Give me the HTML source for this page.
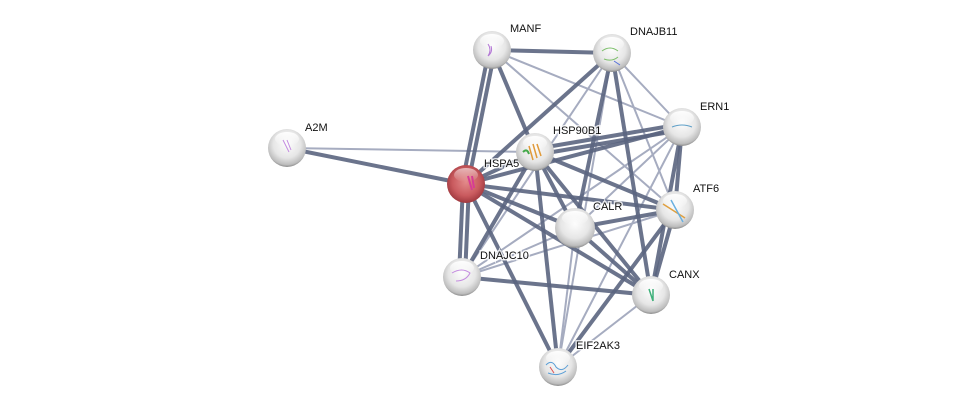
<!DOCTYPE html>
<html><head><meta charset="utf-8"><style>
html,body{margin:0;padding:0;background:#fff;width:976px;height:411px;overflow:hidden}
text{font-family:"Liberation Sans",sans-serif;font-size:11px;fill:#111;paint-order:stroke;stroke:#fff;stroke-width:3px;stroke-opacity:.8}
</style></head><body>
<svg width="976" height="411" viewBox="0 0 976 411" xmlns="http://www.w3.org/2000/svg">
<defs>
<radialGradient id="g" cx="50%" cy="40%" r="60%">
<stop offset="0" stop-color="#fdfdfd"/><stop offset="0.6" stop-color="#e6e6e6"/><stop offset="0.9" stop-color="#bdbdbd"/><stop offset="1" stop-color="#8a8a8a"/></radialGradient>
<radialGradient id="r" cx="50%" cy="45%" r="60%">
<stop offset="0" stop-color="#e38a8a"/><stop offset="0.6" stop-color="#c95a5e"/><stop offset="0.9" stop-color="#a13a40"/><stop offset="1" stop-color="#6d2328"/></radialGradient>
<linearGradient id="hl" x1="0" y1="0" x2="0" y2="1"><stop offset="0" stop-color="#fff" stop-opacity=".95"/><stop offset="1" stop-color="#fff" stop-opacity="0"/></linearGradient>
</defs>
<g stroke="#a6acc0" stroke-width="2" fill="none">
<line x1="287" y1="148" x2="535" y2="152"/>
<line x1="492" y1="50" x2="682" y2="127"/>
<line x1="492" y1="50" x2="675" y2="210"/>
<line x1="612" y1="53" x2="682" y2="127"/>
<line x1="612" y1="53" x2="675" y2="210"/>
<line x1="612" y1="53" x2="558" y2="367"/>
<line x1="612" y1="53" x2="462" y2="277"/>
<line x1="682" y1="127" x2="462" y2="277"/>
<line x1="682" y1="127" x2="575" y2="228"/>
<line x1="575" y1="228" x2="462" y2="277"/>
<line x1="575" y1="228" x2="558" y2="367"/>
<line x1="675" y1="210" x2="462" y2="277"/>
<line x1="651" y1="295" x2="558" y2="367"/>
<line x1="682" y1="127" x2="558" y2="367"/>
</g>
<g stroke="#5b6580" stroke-width="4" fill="none" stroke-opacity=".9">
<line x1="492" y1="50" x2="612" y2="53"/>
<line x1="489" y1="50" x2="462" y2="184"/>
<line x1="495" y1="50" x2="468" y2="184"/>
<line x1="492" y1="50" x2="535" y2="152"/>
<line x1="287" y1="148" x2="466" y2="184"/>
<line x1="466" y1="184" x2="612" y2="53"/>
<line x1="466" y1="184" x2="535" y2="152"/>
<line x1="466" y1="184" x2="575" y2="228"/>
<line x1="466" y1="184" x2="675" y2="210"/>
<line x1="466" y1="184" x2="651" y2="295"/>
<line x1="463" y1="184" x2="459" y2="277"/>
<line x1="469" y1="184" x2="465" y2="277"/>
<line x1="466" y1="184" x2="558" y2="367"/>
<line x1="466" y1="184" x2="682" y2="127"/>
<line x1="535" y1="149" x2="682" y2="124"/>
<line x1="535" y1="155" x2="682" y2="130"/>
<line x1="535" y1="152" x2="675" y2="210"/>
<line x1="535" y1="152" x2="575" y2="228"/>
<line x1="535" y1="152" x2="651" y2="295"/>
<line x1="535" y1="152" x2="462" y2="277"/>
<line x1="535" y1="152" x2="558" y2="367"/>
<line x1="575" y1="228" x2="675" y2="210"/>
<line x1="575" y1="228" x2="651" y2="295"/>
<line x1="612" y1="53" x2="575" y2="228"/>
<line x1="612" y1="53" x2="651" y2="295"/>
<line x1="682" y1="127" x2="675" y2="210"/>
<line x1="682" y1="127" x2="651" y2="295"/>
<line x1="675" y1="210" x2="651" y2="295"/>
<line x1="675" y1="210" x2="558" y2="367"/>
<line x1="462" y1="277" x2="651" y2="295"/>
</g>
<text x="510" y="32">MANF</text>
<text x="630" y="35">DNAJB11</text>
<text x="700" y="110">ERN1</text>
<text x="305" y="131">A2M</text>
<text x="484" y="167">HSPA5</text>
<text x="553" y="134">HSP90B1</text>
<text x="593" y="210">CALR</text>
<text x="693" y="192">ATF6</text>
<text x="480" y="259">DNAJC10</text>
<text x="669" y="278">CANX</text>
<text x="576" y="349">EIF2AK3</text>
<g>
<g transform="translate(492,50)"><circle r="19" fill="url(#g)"/><ellipse cy="-9" rx="12" ry="7" fill="url(#hl)"/><path d="M-4 -6 q4 6 0 12 q5 -4 3 -10" stroke="#b57ad6" fill="none"/></g>
<g transform="translate(612,53)"><circle r="19" fill="url(#g)"/><ellipse cy="-9" rx="12" ry="7" fill="url(#hl)"/><path d="M-10 -2 q8 -6 16 0 M-8 6 q8 3 14 -2" stroke="#7cbf6a" fill="none"/><path d="M2 8 l6 4" stroke="#5570d8"/></g>
<g transform="translate(682,127)"><circle r="19" fill="url(#g)"/><ellipse cy="-9" rx="12" ry="7" fill="url(#hl)"/><path d="M-10 0 q10 -4 20 0" stroke="#5fa0c8" fill="none"/></g>
<g transform="translate(287,148)"><circle r="19" fill="url(#g)"/><ellipse cy="-9" rx="12" ry="7" fill="url(#hl)"/><path d="M-4 -8 l6 12 M0 -8 l4 10" stroke="#c38be0" fill="none"/></g>
<g transform="translate(466,184)"><circle r="19" fill="url(#r)"/><ellipse cy="-9" rx="12" ry="7" fill="url(#hl)" opacity=".6"/><path d="M2 -8 l4 14 M6 -8 l2 12" stroke="#d63c94" stroke-width="2" fill="none"/></g>
<g transform="translate(535,152)"><circle r="19" fill="url(#g)"/><ellipse cy="-9" rx="12" ry="7" fill="url(#hl)"/><path d="M-6 -6 l4 14 M-2 -8 l4 14 M2 -8 l4 12" stroke="#e09a3a" stroke-width="1.5"/><path d="M-12 0 q4 -4 6 2" stroke="#44a84a" stroke-width="2" fill="none"/></g>
<g transform="translate(575,228)"><circle r="20" fill="url(#g)"/><ellipse cy="-10" rx="13" ry="7" fill="url(#hl)"/></g>
<g transform="translate(675,210)"><circle r="19" fill="url(#g)"/><ellipse cy="-9" rx="12" ry="7" fill="url(#hl)"/><path d="M-12 -6 l22 14" stroke="#e0a040" stroke-width="1.5"/><path d="M-4 -10 l12 22" stroke="#6ab0e0" stroke-width="1.5"/></g>
<g transform="translate(462,277)"><circle r="19" fill="url(#g)"/><ellipse cy="-9" rx="12" ry="7" fill="url(#hl)"/><path d="M-10 -4 q10 -6 18 0 q-4 8 -14 8" stroke="#c48be0" fill="none"/></g>
<g transform="translate(651,295)"><circle r="19" fill="url(#g)"/><ellipse cy="-9" rx="12" ry="7" fill="url(#hl)"/><path d="M-2 -6 l4 12 M2 -6 l0 12" stroke="#3fb07a" stroke-width="1.5"/></g>
<g transform="translate(558,367)"><circle r="19" fill="url(#g)"/><ellipse cy="-9" rx="12" ry="7" fill="url(#hl)"/><path d="M-12 -2 q6 -6 10 2 q6 6 12 -2 M-10 6 q10 4 18 -2" stroke="#5a9ed6" fill="none"/><path d="M-8 0 l4 6" stroke="#e05050"/></g>
</g>
</svg>
</body></html>
